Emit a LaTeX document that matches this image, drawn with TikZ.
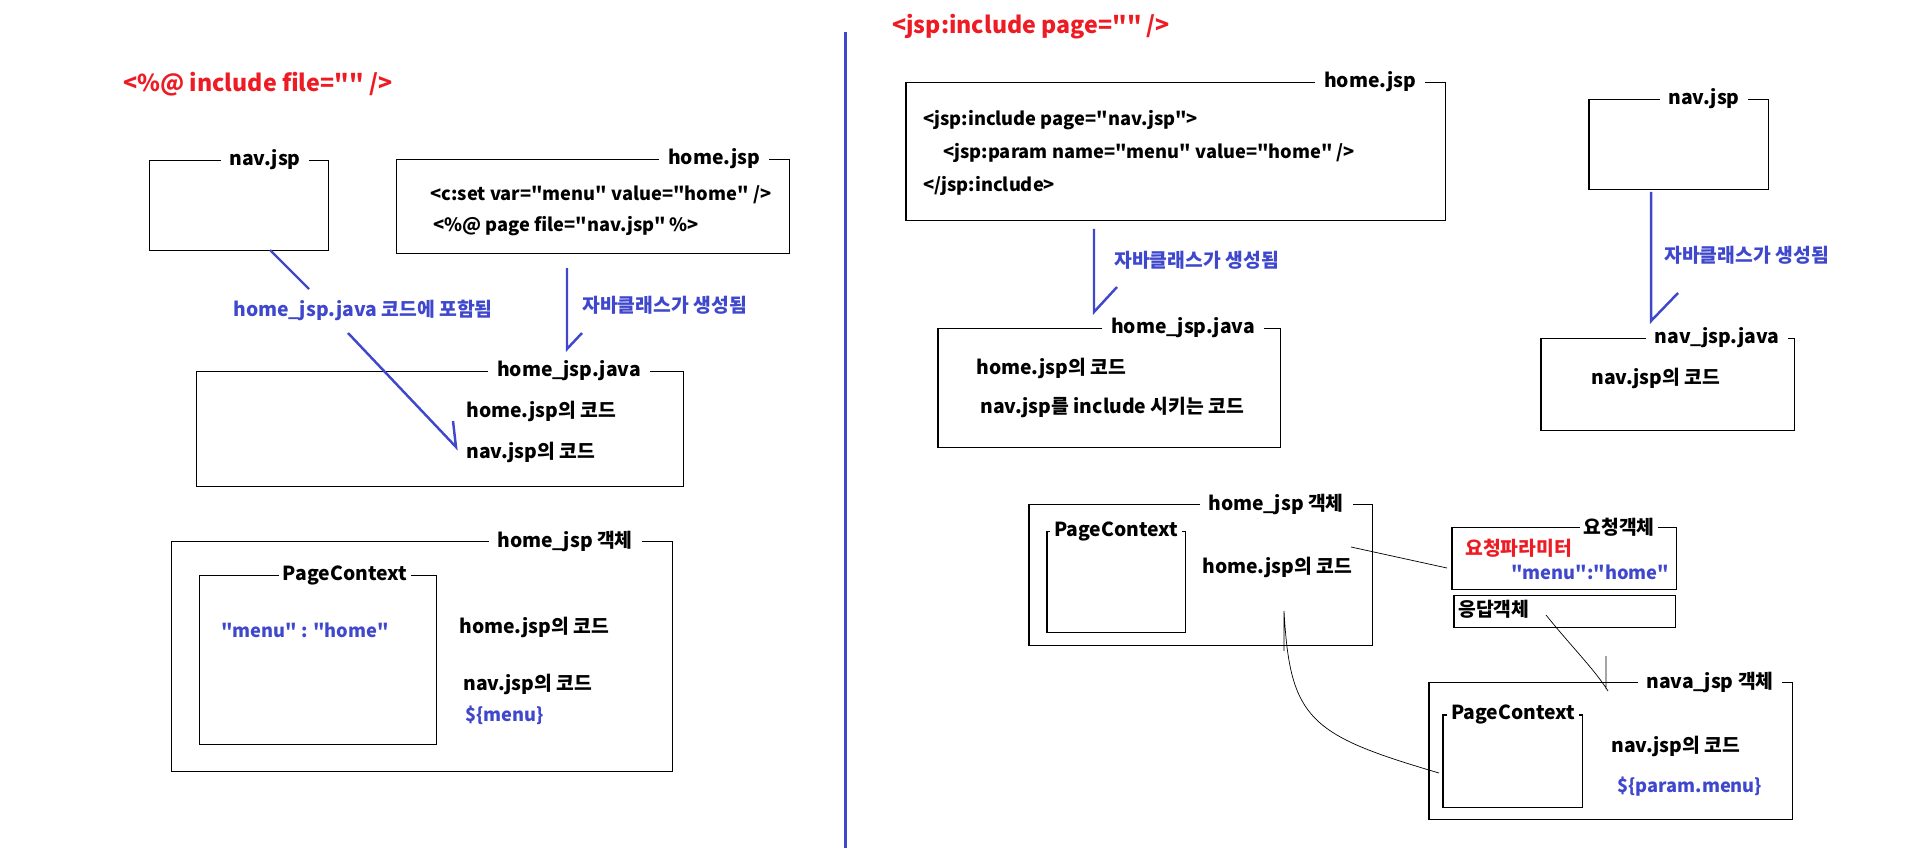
\documentclass[tikz,border=0pt]{standalone}
\usepackage{fontspec}
\setmainfont{Noto Sans CJK KR}[Ligatures=TeXOff]
\usepackage{tikz}
\usepackage{xcolor}
\usetikzlibrary{positioning}
\definecolor{pblue}{RGB}{63,72,204}
\definecolor{pred}{RGB}{237,28,36}

\begin{document}
\begin{tikzpicture}[x=0.02cm, y=-0.02cm,
    pane/.style={draw, line width=0.85pt, inner sep=0pt, anchor=north west},
    tag/.style={fill=white, inner xsep=5pt, inner ysep=1pt, font=\bfseries\fontsize{11}{13}\selectfont},
    txt/.style={anchor=west, inner sep=0pt, font=\bfseries\fontsize{11}{13}\selectfont},
    code/.style={txt, font=\bfseries\fontsize{10.4}{12}\selectfont},
    bluetxt/.style={txt, text=pblue},
    bluecode/.style={code, text=pblue},
    redtxt/.style={txt, text=pred},
    title/.style={anchor=west, inner sep=0pt, text=pred, font=\bfseries\fontsize{13.2}{16}\selectfont},
    blueline/.style={pblue, line width=1.4pt},
    thin/.style={line width=0.4pt}]
\useasboundingbox (0,0) rectangle (1906,858);

\draw[pblue, line width=1.7pt] (845,32) -- (845,848);

% left: include directive
\node[title] (ttlA) at (123,84) {<\%@ include file="" />};
\node[pane, minimum width=3.58cm, minimum height=1.8cm] (navA) at (149,160) {};
\node[tag] at (265,160) {nav.jsp};
\node[pane, minimum width=7.86cm, minimum height=1.88cm] (homeA) at (396,159) {};
\node[tag] at (714,159) {home.jsp};
\node[code] (setA) at (430,195) {<c:set var="menu" value="home" />};
\node[code] (pageA) at (433,226) {<\%@ page file="nav.jsp" \%>};

\node[pane, minimum width=9.74cm, minimum height=2.3cm] (javaA) at (196,371) {};
\node[tag] at (569,371) {home\_jsp.java};
\node[txt] (hcodeA) at (466,411) {home.jsp의 코드};
\node[txt] (ncodeA) at (466,452) {nav.jsp의 코드};

\node[bluetxt] (incA) at (233,310) {home\_jsp.java 코드에 포함됨};
\coordinate (a1) at (270,250);
\coordinate (a2) at (309,289);
\coordinate (a3) at (348,333);
\coordinate (a4) at (456,447);
\coordinate (a5) at (453,421);
\draw[blueline] (a1) -- (a2) (a3) -- (a4) -- (a5);

\node[bluetxt] (genA) at (582,305) {자바클래스가 생성됨};
\coordinate (b1) at (567,268);
\coordinate (b2) at (567,349);
\coordinate (b3) at (582,333);
\draw[blueline] (b1) -- (b2) -- (b3);

\node[pane, minimum width=10.02cm, minimum height=4.6cm] (objA) at (171,541) {};
\node[tag] at (565,541) {home\_jsp 객체};
\node[pane, minimum width=4.74cm, minimum height=3.38cm] (pcA) at (199,575) {};
\node[tag, inner xsep=2pt] at (345,575) {PageContext};
\node[bluecode] (menuA) at (221,630) {"menu" : "home"};
\node[txt] (hobjA) at (459,627) {home.jsp의 코드};
\node[txt] (nobjA) at (463,684) {nav.jsp의 코드};
\node[bluecode] (elA) at (465,715) {\$\{menu\}};

% right: include action
\node[title] (ttlB) at (892,27) {<jsp:include page="" />};
\node[pane, minimum width=10.8cm, minimum height=2.76cm] (homeB) at (905,82) {};
\node[tag] at (1370,82) {home.jsp};
\node[code] (incB) at (923,120) {<jsp:include page="nav.jsp">};
\node[code] (parB) at (943,153) {<jsp:param name="menu" value="home" />};
\node[code] (endB) at (923,186) {</jsp:include>};

\node[bluetxt] (genB) at (1114,260) {자바클래스가 생성됨};
\coordinate (c1) at (1094,229);
\coordinate (c2) at (1094,312);
\coordinate (c3) at (1117,287);
\draw[blueline] (c1) -- (c2) -- (c3);

\node[pane, minimum width=6.86cm, minimum height=2.38cm] (javaB) at (937,328) {};
\node[tag] at (1183,328) {home\_jsp.java};
\node[txt] (hcodeB) at (976,368) {home.jsp의 코드};
\node[txt] (ncodeB) at (980,407) {nav.jsp를 include 시키는 코드};

\node[pane, minimum width=3.6cm, minimum height=1.8cm] (navB) at (1588,99) {};
\node[tag] at (1704,99) {nav.jsp};
\node[bluetxt] (genC) at (1664,255) {자바클래스가 생성됨};
\coordinate (d1) at (1651,192);
\coordinate (d2) at (1651,321);
\coordinate (d3) at (1678,293);
\draw[blueline] (d1) -- (d2) -- (d3);

\node[pane, minimum width=5.08cm, minimum height=1.84cm] (njavaB) at (1540,338) {};
\node[tag] at (1717,338) {nav\_jsp.java};
\node[txt] (ncodeC) at (1591,378) {nav.jsp의 코드};

\node[pane, minimum width=6.88cm, minimum height=2.82cm] (objB) at (1028,504) {};
\node[tag] at (1276,504) {home\_jsp 객체};
\node[pane, minimum width=2.78cm, minimum height=2.02cm] (pcB) at (1046,531) {};
\node[tag, inner xsep=2pt] at (1116,531) {PageContext};
\node[txt] (hobjB) at (1202,567) {home.jsp의 코드};

\node[pane, minimum width=4.5cm, minimum height=1.24cm] (reqB) at (1451,527) {};
\node[tag, inner xsep=2pt] at (1619,527) {요청객체};
\node[redtxt] (parmB) at (1465,548) {요청파라미터};
\node[bluecode] (menuB) at (1511,572) {"menu":"home"};
\node[pane, minimum width=4.44cm, minimum height=0.64cm] (resB) at (1453,595) {};
\node[txt] (resT) at (1458,609) {응답객체};

\node[pane, minimum width=7.28cm, minimum height=2.74cm] (objC) at (1428,682) {};
\node[tag] at (1710,682) {nava\_jsp 객체};
\node[pane, minimum width=2.8cm, minimum height=1.86cm] (pcC) at (1442,714) {};
\node[tag, inner xsep=2pt] at (1513,714) {PageContext};
\node[txt] (ncodeD) at (1611,746) {nav.jsp의 코드};
\node[bluecode] (elB) at (1617,787) {\$\{param.menu\}};

\coordinate (e1) at (1351,547);
\coordinate (e2) at (1447,568);
\draw[thin] (e1) -- (e2);
\coordinate (f1) at (1546,615);
\coordinate (f2) at (1608,691);
\coordinate (f3) at (1606,656);
\draw[thin] (f1) .. controls (1570,645) and (1595,670) .. (f2) (f3) -- (1606,689);
\coordinate (g1) at (1284,611);
\coordinate (g2) at (1439,773);
\draw[thin] (g1) .. controls (1290,720) and (1310,735) .. (g2) (g1) -- (1284,651);
\end{tikzpicture}
\end{document}
